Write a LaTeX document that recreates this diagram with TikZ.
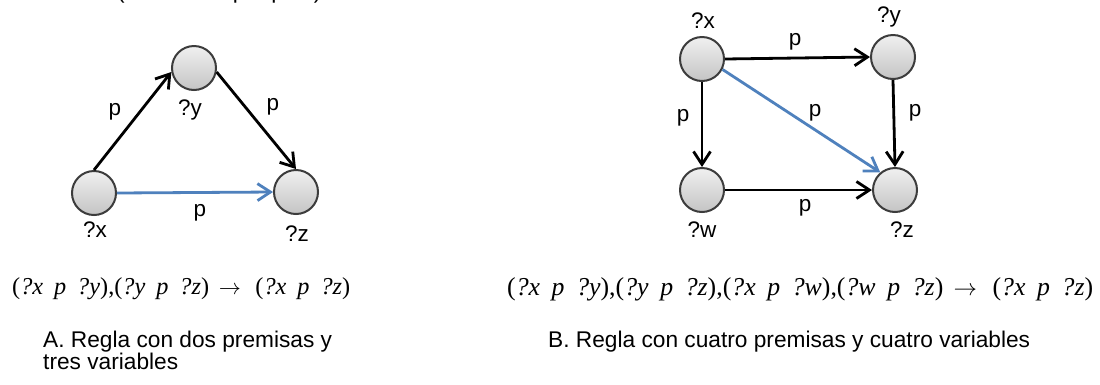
\documentclass[tikz,border=0pt]{standalone}
\usepackage{fontspec}
\setmainfont{Liberation Sans}
\newfontfamily\frmfont{Liberation Serif}
\usepackage{graphicx}
\usetikzlibrary{arrows.meta}
\definecolor{nodeedge}{RGB}{60,60,60}
\definecolor{nodetop}{RGB}{240,240,240}
\definecolor{nodebot}{RGB}{196,196,196}
\definecolor{ruleblue}{RGB}{79,129,189}
\newcommand{\qv}[1]{\textit{?#1}}
\newcommand{\tri}[3]{(\qv{#1}\hspace{0.45em}\textit{p}\hspace{0.45em}\qv{#3})}
\begin{document}
\begin{tikzpicture}[x=1pt,y=-1pt,
  vnode/.style={circle,minimum size=44pt,inner sep=0pt,draw=nodeedge,line width=2pt,top color=nodetop,bottom color=nodebot},
  lbl/.style={font=\fontsize{22.5}{24}\selectfont,inner sep=0pt},
  arr/.style={line width=2.8pt,-{Straight Barb[length=13pt,width=17pt]}},
  blk/.style={arr,draw=black},
  blu/.style={arr,draw=ruleblue},
  captext/.style={font=\fontsize{22.7}{21}\selectfont,inner sep=0pt,align=left,anchor=north west},
  frm/.style={inner sep=0pt,anchor=west,font=\frmfont\fontsize{19}{22}\selectfont}]
\clip (0,0) rectangle (1100,384);
\fill[white] (0,0) rectangle (1100,384);

% clipped text line at the very top
\node[font=\fontsize{22.7}{24}\selectfont,inner sep=0pt,anchor=base west] (toptxt) at (117,-1.5)
  {(\hspace{108pt}p\hspace{26pt}p\hspace{30pt})};

% ---- diagram A ----
\node[vnode] (ax) at (94,193) {};
\node[vnode] (ay) at (194,68) {};
\node[vnode] (az) at (296,192) {};
\draw[blk] (ax.north) -- (ay.190);
\draw[blk] (ay.-10) -- (az.north);
\draw[blu] (ax.east) -- (az.west);
\node[lbl] (lax) at (95,230) {?x};
\node[lbl] (lay) at (190,110) {?y};
\node[lbl] (laz) at (297,234) {?z};
\node[lbl] (pa1) at (115,112) {p};
\node[lbl] (pa2) at (273,107) {p};
\node[lbl] (pa3) at (200,213) {p};

% ---- diagram B ----
\node[vnode] (bx) at (702,59) {};
\node[vnode] (by) at (893,57) {};
\node[vnode] (bw) at (702,190) {};
\node[vnode] (bz) at (895,190) {};
\draw[blk] (bx.east) -- (by.west);
\draw[blk] (bx.south) -- (bw.north);
\draw[blk] (by.south) -- (bz.north);
\draw[blk] (bw.east) -- (bz.west);
\draw[blu] (bx.-27) -- (bz.130);
\node[lbl] (lbx) at (703,21) {?x};
\node[lbl] (lby) at (889,17) {?y};
\node[lbl] (lbw) at (702,230) {?w};
\node[lbl] (lbz) at (902,230) {?z};
\node[lbl] (pb1) at (795,42) {p};
\node[lbl] (pb2) at (815,113) {p};
\node[lbl] (pb3) at (915,113) {p};
\node[lbl] (pb4) at (683,118) {p};
\node[lbl] (pb5) at (805,208) {p};

% ---- formulas ----
\node[frm] (fA) at (12,289) {\resizebox{338pt}{!}{\tri{x}{p}{y},\tri{y}{p}{z}\hspace{0.4em}$\rightarrow$\hspace{0.6em}\tri{x}{p}{z}}};
\node[frm] (fB) at (507,289) {\resizebox{586pt}{!}{\tri{x}{p}{y},\tri{y}{p}{z},\tri{x}{p}{w},\tri{w}{p}{z}\hspace{0.4em}$\rightarrow$\hspace{0.6em}\tri{x}{p}{z}}};

% ---- captions ----
\node[captext] (capA) at (43,331) {A. Regla con dos premisas y\\tres variables};
\node[captext] (capB) at (548,331) {B. Regla con cuatro premisas y cuatro variables};
\end{tikzpicture}
\end{document}
